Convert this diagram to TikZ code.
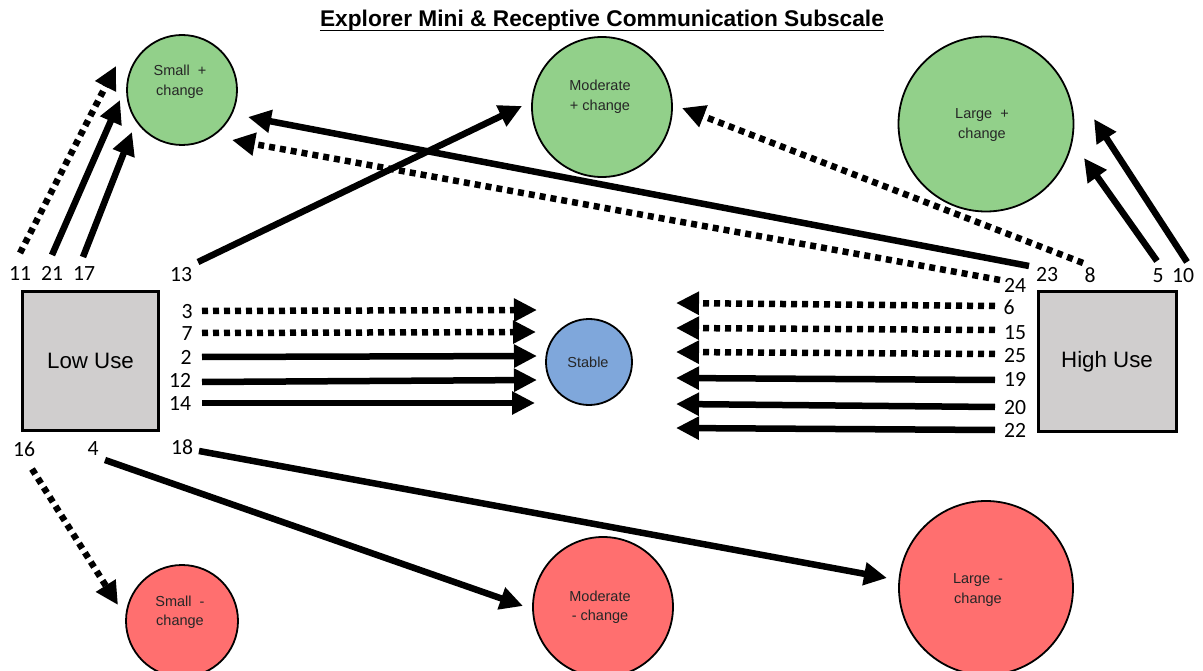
\documentclass[tikz,border=0pt]{standalone}
\usepackage{fontspec}
\setmainfont{Liberation Sans}
\newfontfamily\numfont{Carlito}
\usetikzlibrary{arrows.meta}
\definecolor{cgreen}{HTML}{92D08A}
\definecolor{cred}{HTML}{FF6F6F}
\definecolor{cblue}{HTML}{7FA7DB}
\definecolor{cgray}{HTML}{D0CECE}
\definecolor{ctext}{HTML}{262626}
\begin{document}
\begin{tikzpicture}[x=1pt,y=-1pt,
  circ/.style={circle, draw=black, line width=1.8pt, inner sep=0pt},
  ctxt/.style={align=center, font=\fontsize{14.5}{19.5}\selectfont, text=ctext, inner sep=0pt},
  usebox/.style={draw=black, line width=3pt, fill=cgray, inner sep=0pt, font=\fontsize{22.3}{26}\selectfont},
  num/.style={font=\numfont\fontsize{21.7}{24}\selectfont, inner sep=0pt, text height=13.5pt, text depth=0pt},
  arr/.style={line width=6.5pt, -{Triangle[length=23pt,width=22pt]}},
  dotarr/.style={arr, dash pattern=on 6pt off 5pt},
]
\useasboundingbox (0,0) rectangle (1203,671);
\fill[white] (0,0) rectangle (1203,671);

% title
\node[font=\fontsize{22.7}{26}\selectfont\bfseries, inner sep=0pt, anchor=base] (title) at (602,27) {Explorer Mini \& Receptive Communication Subscale};
\draw[line width=1.8pt] ([yshift=-3.5pt]title.base west) -- ([yshift=-3.5pt]title.base east);

% circles
\node[circ, fill=cgreen, minimum size=110pt] (sp) at (182,90) {};
\node[ctxt] (spt) at (180,82) {Small\ \ +\\change};
\node[circ, fill=cgreen, minimum size=140pt] (mp) at (602,107) {};
\node[ctxt] (mpt) at (600,97) {Moderate\\+ change};
\node[circ, fill=cgreen, minimum size=175pt] (lp) at (986,124) {};
\node[ctxt] (lpt) at (982,125) {Large\ \ +\\change};
\node[circ, fill=cblue, minimum size=86pt] (st) at (589,362) {};
\node[ctxt] (stt) at (588,362) {Stable};
\node[circ, fill=cred, minimum size=112pt] (sm) at (182,621) {};
\node[ctxt] (smt) at (180,612) {Small\ \ -\\change};
\node[circ, fill=cred, minimum size=140pt] (mm) at (603,607) {};
\node[ctxt] (mmt) at (600,607) {Moderate\\- change};
\node[circ, fill=cred, minimum size=174pt] (lm) at (986,588) {};
\node[ctxt] (lmt) at (978,590) {Large\ \ -\\change};

% boxes
\node[usebox, minimum width=136pt, minimum height=138pt] (low) at (90.5,361) {Low Use};
\node[usebox, minimum width=138pt, minimum height=139pt] (high) at (1107,361.5) {High Use};

% number labels
\node[num] (n11) at (20,274) {11};
\node[num] (n21) at (52,274) {21};
\node[num] (n17) at (84,274) {17};
\node[num] (n13) at (181,275) {13};
\node[num] (n3) at (187,312) {3};
\node[num] (n7) at (187,334) {7};
\node[num] (n2) at (186,358) {2};
\node[num] (n12) at (180,381) {12};
\node[num] (n14) at (180,404) {14};
\node[num] (n16) at (24,450) {16};
\node[num] (n4) at (93,449) {4};
\node[num] (n18) at (182,448) {18};
\node[num] (n24) at (1015,286) {24};
\node[num] (n23) at (1047,275) {23};
\node[num] (n8) at (1090,276) {8};
\node[num] (n5) at (1158,276) {5};
\node[num] (n10) at (1183,276) {10};
\node[num] (n6) at (1009,308) {6};
\node[num] (n15) at (1015,333) {15};
\node[num] (n25) at (1015,356) {25};
\node[num] (n19) at (1015,380) {19};
\node[num] (n20) at (1015,408) {20};
\node[num] (n22) at (1015,431) {22};

% arrow end points
\coordinate (s11) at (20,253);   \coordinate (e11) at (116,66);
\coordinate (s21) at (52,255);   \coordinate (e21) at (120,100);
\coordinate (s17) at (83,257);   \coordinate (e17) at (132,132);
\coordinate (s13) at (198,262);  \coordinate (e13) at (522,106);
\coordinate (s3) at (202,311);   \coordinate (e3) at (537,310);
\coordinate (s7) at (202,333);   \coordinate (e7) at (536,332);
\coordinate (s2) at (202,357);   \coordinate (e2) at (537,356);
\coordinate (s12) at (202,382);  \coordinate (e12) at (537,380);
\coordinate (s14) at (202,403);  \coordinate (e14) at (535,403);
\coordinate (s16) at (32,469);   \coordinate (e16) at (118,605);
\coordinate (s4) at (105,460);   \coordinate (e4) at (523,606);
\coordinate (s18) at (199,451);  \coordinate (e18) at (887,578);
\coordinate (s23) at (1029,266); \coordinate (e23) at (248,117);
\coordinate (s24) at (1000,280); \coordinate (e24) at (232,140);
\coordinate (s8) at (1083,263);  \coordinate (e8) at (682,108);
\coordinate (s5) at (1157,261);  \coordinate (e5) at (1084,158);
\coordinate (s10) at (1187,262); \coordinate (e10) at (1094,119);
\coordinate (s6) at (995,306);   \coordinate (e6) at (676,303);
\coordinate (s15) at (995,330);  \coordinate (e15) at (676,328);
\coordinate (s25) at (995,354);  \coordinate (e25) at (676,352);
\coordinate (s19) at (995,380);  \coordinate (e19) at (676,378);
\coordinate (s20) at (995,407);  \coordinate (e20) at (676,404);
\coordinate (s22) at (995,430);  \coordinate (e22) at (676,428);

% arrows
\draw[dotarr] (s11) -- (e11);
\draw[arr] (s21) -- (e21);
\draw[arr] (s17) -- (e17);
\draw[arr] (s13) -- (e13);
\draw[dotarr] (s3) -- (e3);
\draw[dotarr] (s7) -- (e7);
\draw[arr] (s2) -- (e2);
\draw[arr] (s12) -- (e12);
\draw[arr] (s14) -- (e14);
\draw[dotarr] (s16) -- (e16);
\draw[arr] (s4) -- (e4);
\draw[arr] (s18) -- (e18);
\draw[arr] (s23) -- (e23);
\draw[dotarr] (s24) -- (e24);
\draw[dotarr] (s8) -- (e8);
\draw[arr] (s5) -- (e5);
\draw[arr] (s10) -- (e10);
\draw[dotarr] (s6) -- (e6);
\draw[dotarr] (s15) -- (e15);
\draw[dotarr] (s25) -- (e25);
\draw[arr] (s19) -- (e19);
\draw[arr] (s20) -- (e20);
\draw[arr] (s22) -- (e22);
\end{tikzpicture}
\end{document}
